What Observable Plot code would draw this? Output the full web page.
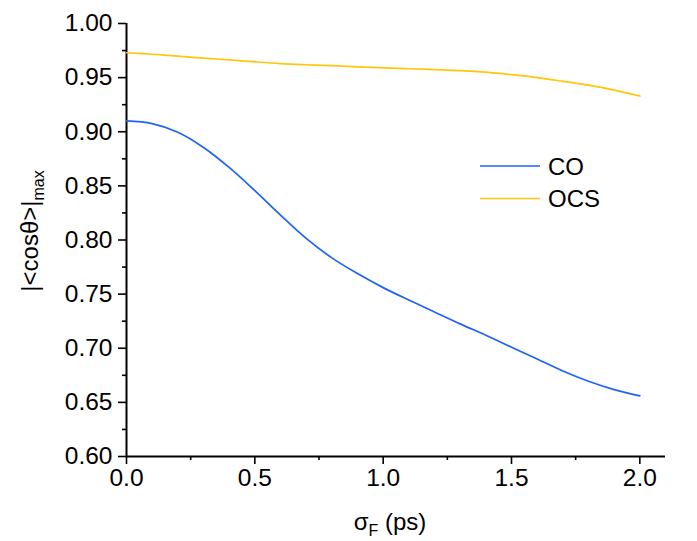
<!DOCTYPE html>
<html>
<head>
<meta charset="utf-8">
<script src="https://cdn.jsdelivr.net/npm/d3@7"></script>
<script src="https://cdn.jsdelivr.net/npm/@observablehq/plot@0.6"></script>
<style>
  html, body { margin: 0; padding: 0; background: #fff; }
  #chart svg { display: block; }
</style>
</head>
<body>
<div id="chart"></div>
<script>
// ---- data ----
const seriesNames = ["CO", "OCS"];
const seriesColors = ["#1f63f5", "#ffc60a"];

const coX = [0, 0.1, 0.2, 0.3, 0.4, 0.5, 0.6, 0.7, 0.8, 0.9, 1.0, 1.1, 1.2, 1.3, 1.4, 1.5, 1.6, 1.7, 1.8, 1.9, 2.0];
const coY = [0.910, 0.9075, 0.8995, 0.8855, 0.867, 0.8455, 0.823, 0.8015, 0.7835, 0.769, 0.756, 0.7445, 0.7335, 0.7225, 0.712, 0.701, 0.690, 0.679, 0.6695, 0.6618, 0.656];

const ocsX = [0, 0.1, 0.2, 0.3, 0.4, 0.5, 0.6, 0.7, 0.8, 0.9, 1.0, 1.1, 1.2, 1.3, 1.4, 1.5, 1.6, 1.7, 1.8, 1.9, 2.0];
const ocsY = [0.973, 0.9716, 0.9699, 0.968, 0.9664, 0.9646, 0.9630, 0.9619, 0.9610, 0.9600, 0.9590, 0.9582, 0.9574, 0.9565, 0.9550, 0.9527, 0.9500, 0.9466, 0.9430, 0.9385, 0.933];

const xDomain = [0, 2.1];
const yDomain = [0.6, 1.0];
const xTicks = [0, 0.5, 1.0, 1.5, 2.0];
const xMinor = [0.25, 0.75, 1.25, 1.75];
const yTicks = [0.60, 0.65, 0.70, 0.75, 0.80, 0.85, 0.90, 0.95, 1.00];
const yMinor = [0.625, 0.675, 0.725, 0.775, 0.825, 0.875, 0.925, 0.975];

// ---- build table ----
const rows = [
  ...coX.map((x, i) => ({series: "CO", x, y: coY[i]})),
  ...ocsX.map((x, i) => ({series: "OCS", x, y: ocsY[i]}))
];

const font = "'Liberation Sans', Arial, Helvetica, sans-serif";

const chart = Plot.plot({
  width: 697,
  height: 541,
  marginLeft: 126,
  marginRight: 32,
  marginTop: 23,
  marginBottom: 85,
  style: {fontFamily: font, fontSize: "24.5px", color: "#000", background: "#fff", overflow: "visible"},
  x: {domain: xDomain},
  y: {domain: yDomain},
  color: {domain: seriesNames, range: seriesColors},
  marks: [
    Plot.axisY(yTicks, {tickSize: 8, tickPadding: 6, strokeWidth: 1.6, tickFormat: d3.format(".2f"), label: null}),
    Plot.axisY(yMinor, {tickSize: 4, strokeWidth: 1.6, tickFormat: () => null, label: null}),
    Plot.axisX(xTicks, {tickSize: 8, tickPadding: 4, strokeWidth: 1.6, tickFormat: d3.format(".1f"), label: null}),
    Plot.axisX(xMinor, {tickSize: 4, strokeWidth: 1.6, tickFormat: () => null, label: null}),
    Plot.ruleX([xDomain[0]], {strokeWidth: 2}),
    Plot.ruleY([yDomain[0]], {strokeWidth: 2}),
    Plot.line(rows, {x: "x", y: "y", stroke: "series", z: "series", curve: "catmull-rom", strokeWidth: 1.7})
  ]
});

document.getElementById("chart").appendChild(chart);

// ---- axis titles with subscripts, and legend ----
const svg = d3.select(chart);

const yl = svg.append("text")
  .attr("transform", "translate(38,231) rotate(-90)")
  .attr("text-anchor", "middle")
  .attr("font-family", font)
  .attr("font-size", 24)
  .attr("fill", "#000");
yl.append("tspan").text("|<cosθ>|");
yl.append("tspan").attr("font-size", 16).attr("dy", 6).text("max");

const xl = svg.append("text")
  .attr("x", 390).attr("y", 530)
  .attr("text-anchor", "middle")
  .attr("font-family", font)
  .attr("font-size", 24)
  .attr("fill", "#000");
xl.append("tspan").text("σ");
xl.append("tspan").attr("font-size", 16).attr("dy", 6).text("F");
xl.append("tspan").attr("dy", -6).text(" (ps)");

const lg = svg.append("g").attr("font-family", font).attr("font-size", 24).attr("text-anchor", "start");
seriesNames.forEach((name, i) => {
  const yy = 166 + i * 32.5;
  lg.append("line").attr("x1", 480).attr("x2", 540).attr("y1", yy).attr("y2", yy)
    .attr("stroke", seriesColors[i]).attr("stroke-width", 1.7);
  lg.append("text").attr("x", 548).attr("y", yy).attr("dy", "0.36em")
    .attr("text-anchor", "start")
    .attr("fill", "#000").text(name);
});
</script>
</body>
</html>
